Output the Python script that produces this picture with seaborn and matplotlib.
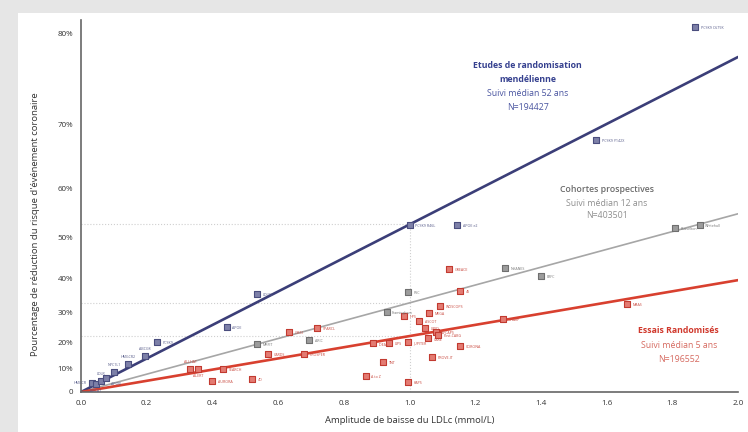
"""Réduction du risque coronaire selon l'amplitude de baisse du LDLc."""

import matplotlib
matplotlib.use("Agg")
import matplotlib.pyplot as plt
from matplotlib.patches import Rectangle
from matplotlib.ticker import FixedLocator, FuncFormatter
import numpy as np
import pandas as pd
import seaborn as sns

# --- data ----------------------------------------------------------------
# Etudes de randomisation mendélienne (blue)
mr_x = [0.035, 0.045, 0.06, 0.075, 0.10, 0.143, 0.195, 0.231, 0.444, 0.536, 1.0, 1.145, 1.568, 1.87]
mr_y = [0.040, 0.035, 0.050, 0.060, 0.086, 0.118, 0.149, 0.201, 0.253, 0.356, 0.528, 0.528, 0.678, 0.806]
mr_lab = ["HMGCR", "ABCA1", "LDLR", "APOB", "NPC1L1", "HMGCR2", "ABCG8",
          "PCSK9", "APOE", "LDLR2", "PCSK9 R46L", "APOE e2", "PCSK9 Y142X", "PCSK9 C679X"]

# Cohortes prospectives (gray)
coh_x = [0.536, 0.694, 0.93, 0.995, 1.29, 1.40, 1.808, 1.884]
coh_y = [0.194, 0.208, 0.302, 0.362, 0.427, 0.406, 0.522, 0.528]
coh_lab = ["MRFIT", "ARIC", "Framingham", "PSC", "NHANES", "ERFC", "Busselton", "Whitehall"]

# Essais randomisés (red)
rct_x = [0.332, 0.356, 0.40, 0.432, 0.52, 0.569, 0.633, 0.679, 0.718, 0.867, 0.89,
         0.92, 0.938, 0.983, 0.995, 0.995, 1.03, 1.047, 1.056, 1.06, 1.068, 1.08,
         1.087, 1.093, 1.12, 1.154, 1.154, 1.285, 1.662]
rct_y = [0.098, 0.098, 0.048, 0.098, 0.057, 0.157, 0.236, 0.157, 0.250, 0.069, 0.197,
         0.126, 0.198, 0.289, 0.201, 0.044, 0.273, 0.250, 0.215, 0.299, 0.146, 0.236,
         0.226, 0.321, 0.425, 0.365, 0.187, 0.280, 0.327]
rct_lab = ["ALLHAT", "ALERT", "AURORA", "SEARCH", "4D", "CARDS", "GISSI", "PROSPER",
           "SPARCL", "A to Z", "IDEAL", "TNT", "LIPS", "HPS", "JUPITER", "KAPS",
           "ASCOT", "LIPID", "CARE", "MEGA", "PROVE-IT", "AFCAPS", "Post-CABG",
           "WOSCOPS", "GREACE", "4S", "CORONA", "SHARP", "MAAS"]

# fitted lines: values at x = 0 and 2 mmol/L, and value at 1 mmol/L
line_x = [0.0, 2.0]
mr_line = [0.0, 0.778]
coh_line = [0.0, 0.551]
rct_line = [0.0, 0.395]
at_one = {"mr": 0.529, "coh": 0.330, "rct": 0.223}

x_ticks = [0.0, 0.2, 0.4, 0.6, 0.8, 1.0, 1.2, 1.4, 1.6, 1.8, 2.0]
y_ticks = [0.0, 0.1, 0.2, 0.3, 0.4, 0.5, 0.6, 0.7, 0.8]

BLUE = "#3b3e78"
GRAY = "#a6a6a6"
RED = "#d8402f"

points = pd.concat([
    pd.DataFrame({"x": mr_x, "y": mr_y, "lab": mr_lab, "grp": "mr"}),
    pd.DataFrame({"x": coh_x, "y": coh_y, "lab": coh_lab, "grp": "coh"}),
    pd.DataFrame({"x": rct_x, "y": rct_y, "lab": rct_lab, "grp": "rct"}),
], ignore_index=True)
lines = pd.concat([
    pd.DataFrame({"x": line_x, "y": mr_line, "grp": "mr"}),
    pd.DataFrame({"x": line_x, "y": coh_line, "grp": "coh"}),
    pd.DataFrame({"x": line_x, "y": rct_line, "grp": "rct"}),
], ignore_index=True)

# where a study label sits when "right of the square" would collide
label_spots = {
    "HMGCR": ((-4, 0), "right"),
    "ABCA1": ((0, -5), "center"),
    "LDLR": ((0, 5), "center"),
    "APOB": ((4, -4), "left"),
    "NPC1L1": ((0, 5), "center"),
    "HMGCR2": ((0, 5), "center"),
    "ABCG8": ((0, 5), "center"),
    "ALLHAT": ((0, 5), "center"),
    "ALERT": ((0, -5), "center"),
}


def fwd(r):
    return -np.log(1 - np.clip(r, -0.5, 0.999))


def inv(u):
    return 1 - np.exp(-u)


sns.set_style("white")
plt.rcParams["font.family"] = ["Open Sans", "DejaVu Sans"]

fig = plt.figure(figsize=(7.48, 4.32), dpi=100, facecolor="#e6e6e6")
fig.patches.append(Rectangle((18 / 748, 0), 1, 1 - 13 / 432, transform=fig.transFigure,
                             facecolor="white", edgecolor="none", zorder=-5))
ax = fig.add_axes([81 / 748, 40 / 432, 657 / 748, 372 / 432])
ax.set_zorder(2)
ax.set_facecolor("none")
ax.set_yscale("function", functions=(fwd, inv))
ax.set_xlim(0, 2.0)
ax.set_ylim(0, 0.812)

# dotted guides at 1 mmol/L
for key in ["mr", "coh", "rct"]:
    ax.plot([0, 1.0], [at_one[key]] * 2, color="#cfcfcf", lw=0.8, ls=":", zorder=1)
ax.plot([1.0, 1.0], [0, at_one["mr"]], color="#cfcfcf", lw=0.8, ls=":", zorder=1)

palette = {"mr": BLUE, "coh": GRAY, "rct": RED}
widths = {"mr": 1.9, "coh": 1.2, "rct": 1.9}
for key, sub in lines.groupby("grp"):
    sns.lineplot(data=sub, x="x", y="y", color=palette[key], lw=widths[key],
                 ax=ax, zorder=2, legend=False)

fills = {"mr": "#7d80a8", "coh": "#9c9c9c", "rct": "#e37b72"}
edges = {"mr": "#4a4d7e", "coh": "#6f6f6f", "rct": "#c23a30"}
labcol = {"mr": "#555a88", "coh": "#777777", "rct": "#c8463c"}
for key, sub in points.groupby("grp"):
    sns.scatterplot(data=sub, x="x", y="y", marker="s", s=20, color=fills[key],
                    edgecolor=edges[key], linewidth=0.8, ax=ax, zorder=3, legend=False)
    for row in sub.itertuples():
        off, ha = label_spots.get(row.lab, ((4, -1), "left"))
        ax.annotate(row.lab, (row.x, row.y), xytext=off, textcoords="offset points",
                    fontsize=2.6, color=labcol[key], va="center", ha=ha, zorder=4)

# group captions, one line at a time
captions = [
    (1.36, [("Etudes de randomisation", 0.769, "bold", "#35408f"),
            ("mendélienne", 0.754, "bold", "#35408f"),
            ("Suivi médian 52 ans", 0.738, "normal", "#4a55a0"),
            ("N=194427", 0.722, "normal", "#4a55a0")]),
    (1.60, [("Cohortes prospectives", 0.597, "semibold", "#6b6b6b"),
            ("Suivi médian 12 ans", 0.572, "normal", "#8f8f8f"),
            ("N=403501", 0.547, "normal", "#8f8f8f")]),
    (1.82, [("Essais Randomisés", 0.240, "bold", "#d0392d"),
            ("Suivi médian 5 ans", 0.187, "normal", "#d66a60"),
            ("N=196552", 0.134, "normal", "#d66a60")]),
]
for cx, rows in captions:
    for txt, cy, weight, col in rows:
        ax.text(cx, cy, txt, color=col, fontsize=6.3, fontweight=weight,
                ha="center", va="center")

ax.xaxis.set_major_locator(FixedLocator(x_ticks))
ax.yaxis.set_major_locator(FixedLocator(y_ticks))
ax.yaxis.set_minor_locator(FixedLocator([]))
ax.xaxis.set_major_formatter(FuncFormatter(lambda v, p: f"{v:.1f}"))
ax.yaxis.set_major_formatter(FuncFormatter(lambda v, p: "0" if v == 0 else f"{v * 100:.0f}%"))
ax.tick_params(axis="both", direction="inout", length=5, width=0.8, colors="#555555",
               labelsize=5.8, labelcolor="#333333", pad=3)

for side in ["top", "right"]:
    ax.spines[side].set_visible(False)
for side in ["left", "bottom"]:
    ax.spines[side].set_color("#666666")
    ax.spines[side].set_linewidth(1.2)

ax.set_xlabel("Amplitude de baisse du LDLc (mmol/L)", fontsize=6.8, color="#333333",
              labelpad=7)
ax.set_ylabel("Pourcentage de réduction du risque d'événement coronaire", fontsize=6.8,
              color="#333333")
ax.yaxis.set_label_coords(-0.062, 0.45)

fig.savefig("out.png", dpi=100, facecolor=fig.get_facecolor())
